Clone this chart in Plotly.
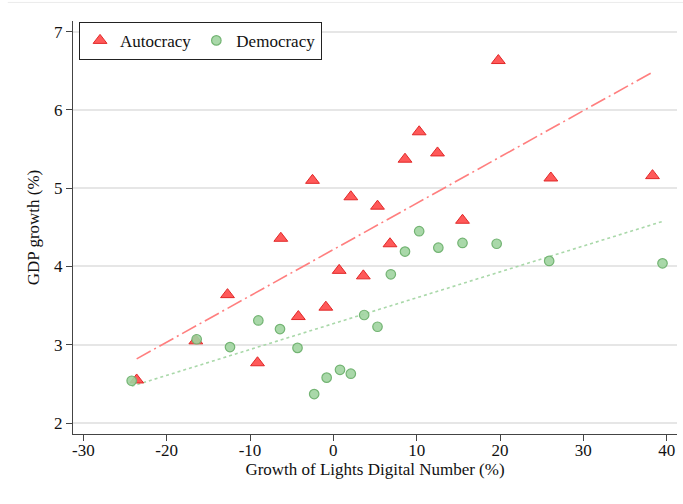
import plotly.graph_objects as go

# Binned scatter values
auto_x = [-23.6, -16.5, -12.7, -9.1, -6.3, -4.2, -2.5, -0.9, 0.7, 2.1,
          3.6, 5.3, 6.8, 8.6, 10.3, 12.5, 15.5, 19.8, 26.1, 38.3]
auto_y = [2.55, 3.05, 3.64, 2.77, 4.36, 3.36, 5.10, 3.48, 3.95, 4.89,
          3.88, 4.77, 4.29, 5.37, 5.72, 5.45, 4.59, 6.63, 5.13, 5.16]

demo_x = [-24.2, -16.4, -12.4, -9.0, -6.4, -4.3, -2.3, -0.8, 0.8, 2.1,
          3.7, 5.3, 6.9, 8.6, 10.3, 12.6, 15.5, 19.6, 25.9, 39.5]
demo_y = [2.54, 3.07, 2.97, 3.31, 3.20, 2.96, 2.37, 2.58, 2.68, 2.63,
          3.38, 3.23, 3.90, 4.19, 4.45, 4.24, 4.30, 4.29, 4.07, 4.04]

# Fitted lines (endpoints)
auto_fit_x = [-23.6, 38.3]
auto_fit_y = [2.82, 6.48]
demo_fit_x = [-24.2, 39.5]
demo_fit_y = [2.47, 4.575]

x_ticks = [-30, -20, -10, 0, 10, 20, 30, 40]
x_tick_text = ["-30", "-20", "-10", "0", "10", "20", "30", "40"]
y_ticks = [2, 3, 4, 5, 6, 7]

FONT = "Liberation Serif, Times New Roman, serif"

fig = go.Figure()

fig.add_trace(go.Scatter(
    x=auto_fit_x, y=auto_fit_y, mode="lines", showlegend=False,
    line=dict(color="#ff7f7f", width=1.6, dash="16px,4px,2px,4px"),
    hoverinfo="skip"))
fig.add_trace(go.Scatter(
    x=demo_fit_x, y=demo_fit_y, mode="lines", showlegend=False,
    line=dict(color="#a9d8a9", width=1.6, dash="3px,3px"),
    hoverinfo="skip"))

fig.add_trace(go.Scatter(
    x=auto_x, y=auto_y, mode="markers", name="Autocracy",
    marker=dict(symbol="triangle-up", size=12, color="rgba(255,60,60,0.85)",
                line=dict(color="rgba(225,40,40,1)", width=1))))
fig.add_trace(go.Scatter(
    x=demo_x, y=demo_y, mode="markers", name="Democracy",
    marker=dict(symbol="circle", size=9.5, color="rgba(160,212,160,0.9)",
                line=dict(color="rgba(115,180,115,1)", width=1.2))))

fig.update_layout(
    width=683, height=504,
    margin=dict(l=73, r=6, t=21, b=70),
    paper_bgcolor="white", plot_bgcolor="white",
    font=dict(family=FONT, size=17, color="#111"),
    legend=dict(
        orientation="h", x=0.01, y=0.998, xanchor="left", yanchor="top",
        bgcolor="white", bordercolor="#222", borderwidth=1,
        font=dict(family=FONT, size=17, color="#111"),
        itemwidth=30, tracegroupgap=0),
    xaxis=dict(
        range=[-31.24, 41.24], tickmode="array", tickvals=x_ticks,
        ticktext=x_tick_text, showgrid=False, zeroline=False,
        showline=True, linecolor="#444", linewidth=1.3,
        ticks="outside", ticklen=6, tickcolor="#444", tickwidth=1,
        ticklabelstandoff=-6,
        title=dict(text="Growth of Lights Digital Number (%)", standoff=0,
                   font=dict(family=FONT, size=17)),
        tickfont=dict(family=FONT, size=17)),
    yaxis=dict(
        range=[1.86, 7.135], tickmode="array", tickvals=y_ticks,
        showgrid=True, gridcolor="#e6e6e6", gridwidth=1.5, zeroline=False,
        showline=True, linecolor="#444", linewidth=1.3,
        ticks="outside", ticklen=6, tickcolor="#444", tickwidth=1,
        title=dict(text="GDP growth (%)", standoff=10,
                   font=dict(family=FONT, size=17)),
        tickfont=dict(family=FONT, size=17)),
    shapes=[dict(type="line", xref="paper", yref="paper",
                 x0=-0.108, x1=1.01, y0=1.045, y1=1.045,
                 line=dict(color="#ebebeb", width=1))],
)

fig.write_html("out.html")
